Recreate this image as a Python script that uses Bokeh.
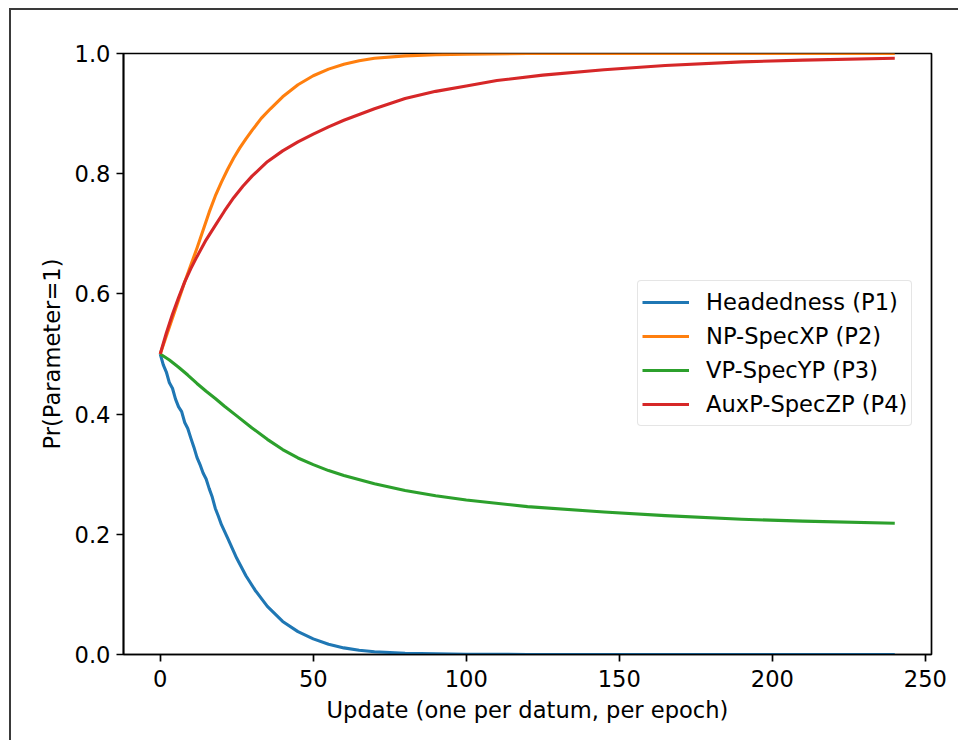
from bokeh.plotting import figure
from bokeh.models import FixedTicker, Legend, LegendItem, Range1d, CustomJSTickFormatter
from bokeh.embed import file_html
from bokeh.resources import INLINE

# ---- data ----
x_p1 = [0, 1, 2, 3, 4, 5, 6, 7, 8, 9, 10, 11, 12, 13, 14, 15, 16, 17, 18, 19, 20, 22,
        25, 28, 31, 35, 40, 45, 50, 55, 60, 65, 70, 80, 90, 100, 120, 150, 200, 240]
p1 = [0.50, 0.482, 0.470, 0.452, 0.443, 0.425, 0.412, 0.404, 0.386, 0.376, 0.360, 0.345,
      0.328, 0.316, 0.302, 0.292, 0.276, 0.262, 0.243, 0.230, 0.216, 0.194,
      0.160, 0.131, 0.107, 0.080, 0.055, 0.038, 0.026, 0.017, 0.011, 0.007, 0.0045,
      0.002, 0.001, 0.0004, 0.0001, 0.0, 0.0, 0.0]

x_p2 = [0, 2, 4, 6, 8, 10, 12, 14, 16, 18, 20, 22, 24, 26, 28, 30, 33, 36, 40, 45, 50,
        55, 60, 65, 70, 80, 90, 100, 120, 150, 200, 240]
p2 = [0.50, 0.530, 0.560, 0.590, 0.620, 0.648, 0.676, 0.706, 0.736, 0.763, 0.786, 0.807,
      0.826, 0.843, 0.858, 0.872, 0.892, 0.908, 0.928, 0.948, 0.963, 0.974, 0.982,
      0.988, 0.992, 0.996, 0.998, 0.999, 1.0, 1.0, 1.0, 1.0]

x_p3 = [0, 3, 6, 9, 12, 15, 18, 21, 25, 30, 35, 40, 45, 50, 55, 60, 70, 80, 90, 100,
        120, 145, 165, 190, 210, 240]
p3 = [0.50, 0.490, 0.478, 0.465, 0.451, 0.438, 0.426, 0.413, 0.397, 0.377, 0.358, 0.341,
      0.327, 0.316, 0.306, 0.298, 0.284, 0.273, 0.264, 0.257, 0.246, 0.237, 0.231,
      0.225, 0.222, 0.2185]

x_p4 = [0, 2, 4, 6, 8, 10, 12, 15, 18, 21, 24, 27, 30, 35, 40, 45, 50, 55, 60, 70, 80,
        90, 100, 110, 125, 145, 165, 190, 210, 240]
p4 = [0.50, 0.535, 0.566, 0.594, 0.620, 0.642, 0.662, 0.690, 0.714, 0.738, 0.760, 0.779,
      0.796, 0.820, 0.838, 0.853, 0.866, 0.878, 0.889, 0.908, 0.925, 0.937, 0.946,
      0.955, 0.964, 0.973, 0.980, 0.986, 0.989, 0.992]

series_labels = ["Headedness (P1)", "NP-SpecXP (P2)", "VP-SpecYP (P3)", "AuxP-SpecZP (P4)"]
colors = ["#1f77b4", "#ff7f0e", "#2ca02c", "#d62728"]
x_ticks = [0, 50, 100, 150, 200, 250]
y_ticks = [0.0, 0.2, 0.4, 0.6, 0.8, 1.0]
x_label = "Update (one per datum, per epoch)"
y_label = "Pr(Parameter=1)"

FONT = "DejaVu Sans"
FS = "22.6px"

W, H = 949, 732
p = figure(width=W, height=H, output_backend="svg", toolbar_location=None,
           x_range=Range1d(-12, 252), y_range=Range1d(0, 1))
p.margin = (8, 0, 0, 9)
p.styles = {"border-left": "2px solid #3a3a3a", "border-top": "2px solid #3a3a3a"}
p.min_border_left = 112
p.min_border_right = 29
p.min_border_top = 43
p.min_border_bottom = 88
p.background_fill_color = "white"
p.border_fill_color = "white"
p.outline_line_color = "black"
p.outline_line_width = 1.7
p.grid.visible = False

renderers = []
for xs, ys, c in [(x_p1, p1, colors[0]), (x_p2, p2, colors[1]),
                  (x_p3, p3, colors[2]), (x_p4, p4, colors[3])]:
    renderers.append(p.line(xs, ys, line_color=c, line_width=3.1, line_join="round"))

for ax in (p.xaxis[0], p.yaxis[0]):
    ax.axis_line_color = "black"
    ax.axis_line_width = 1.7
    ax.major_tick_line_color = "black"
    ax.major_tick_line_width = 1.7
    ax.major_tick_out = 7
    ax.major_tick_in = 0
    ax.minor_tick_line_color = None
    ax.major_label_text_font = FONT
    ax.major_label_text_font_size = FS
    ax.major_label_text_color = "black"
    ax.axis_label_text_font = FONT
    ax.axis_label_text_font_size = FS
    ax.axis_label_text_font_style = "normal"
    ax.axis_label_text_color = "black"

p.xaxis[0].ticker = FixedTicker(ticks=x_ticks)
p.yaxis[0].ticker = FixedTicker(ticks=y_ticks)
p.yaxis[0].formatter = CustomJSTickFormatter(code="return tick.toFixed(1);")
p.xaxis[0].axis_label = x_label
p.yaxis[0].axis_label = y_label
p.xaxis[0].major_label_standoff = 8
p.yaxis[0].major_label_standoff = 6
p.xaxis[0].axis_label_standoff = 7
p.yaxis[0].axis_label_standoff = 7

legend = Legend(items=[LegendItem(label=l, renderers=[r]) for l, r in zip(series_labels, renderers)],
                location=(514, 228))
legend.label_text_font = FONT
legend.label_text_font_size = FS
legend.label_text_color = "black"
legend.glyph_width = 47
legend.glyph_height = 34
legend.label_height = 34
legend.label_standoff = 17
legend.spacing = 0
legend.padding = 4
legend.margin = 0
legend.border_line_color = "#cccccc"
legend.border_line_width = 1
legend.background_fill_alpha = 0.8
legend.border_radius = 4
p.add_layout(legend)

open("out.html", "w").write(file_html(p, INLINE))
